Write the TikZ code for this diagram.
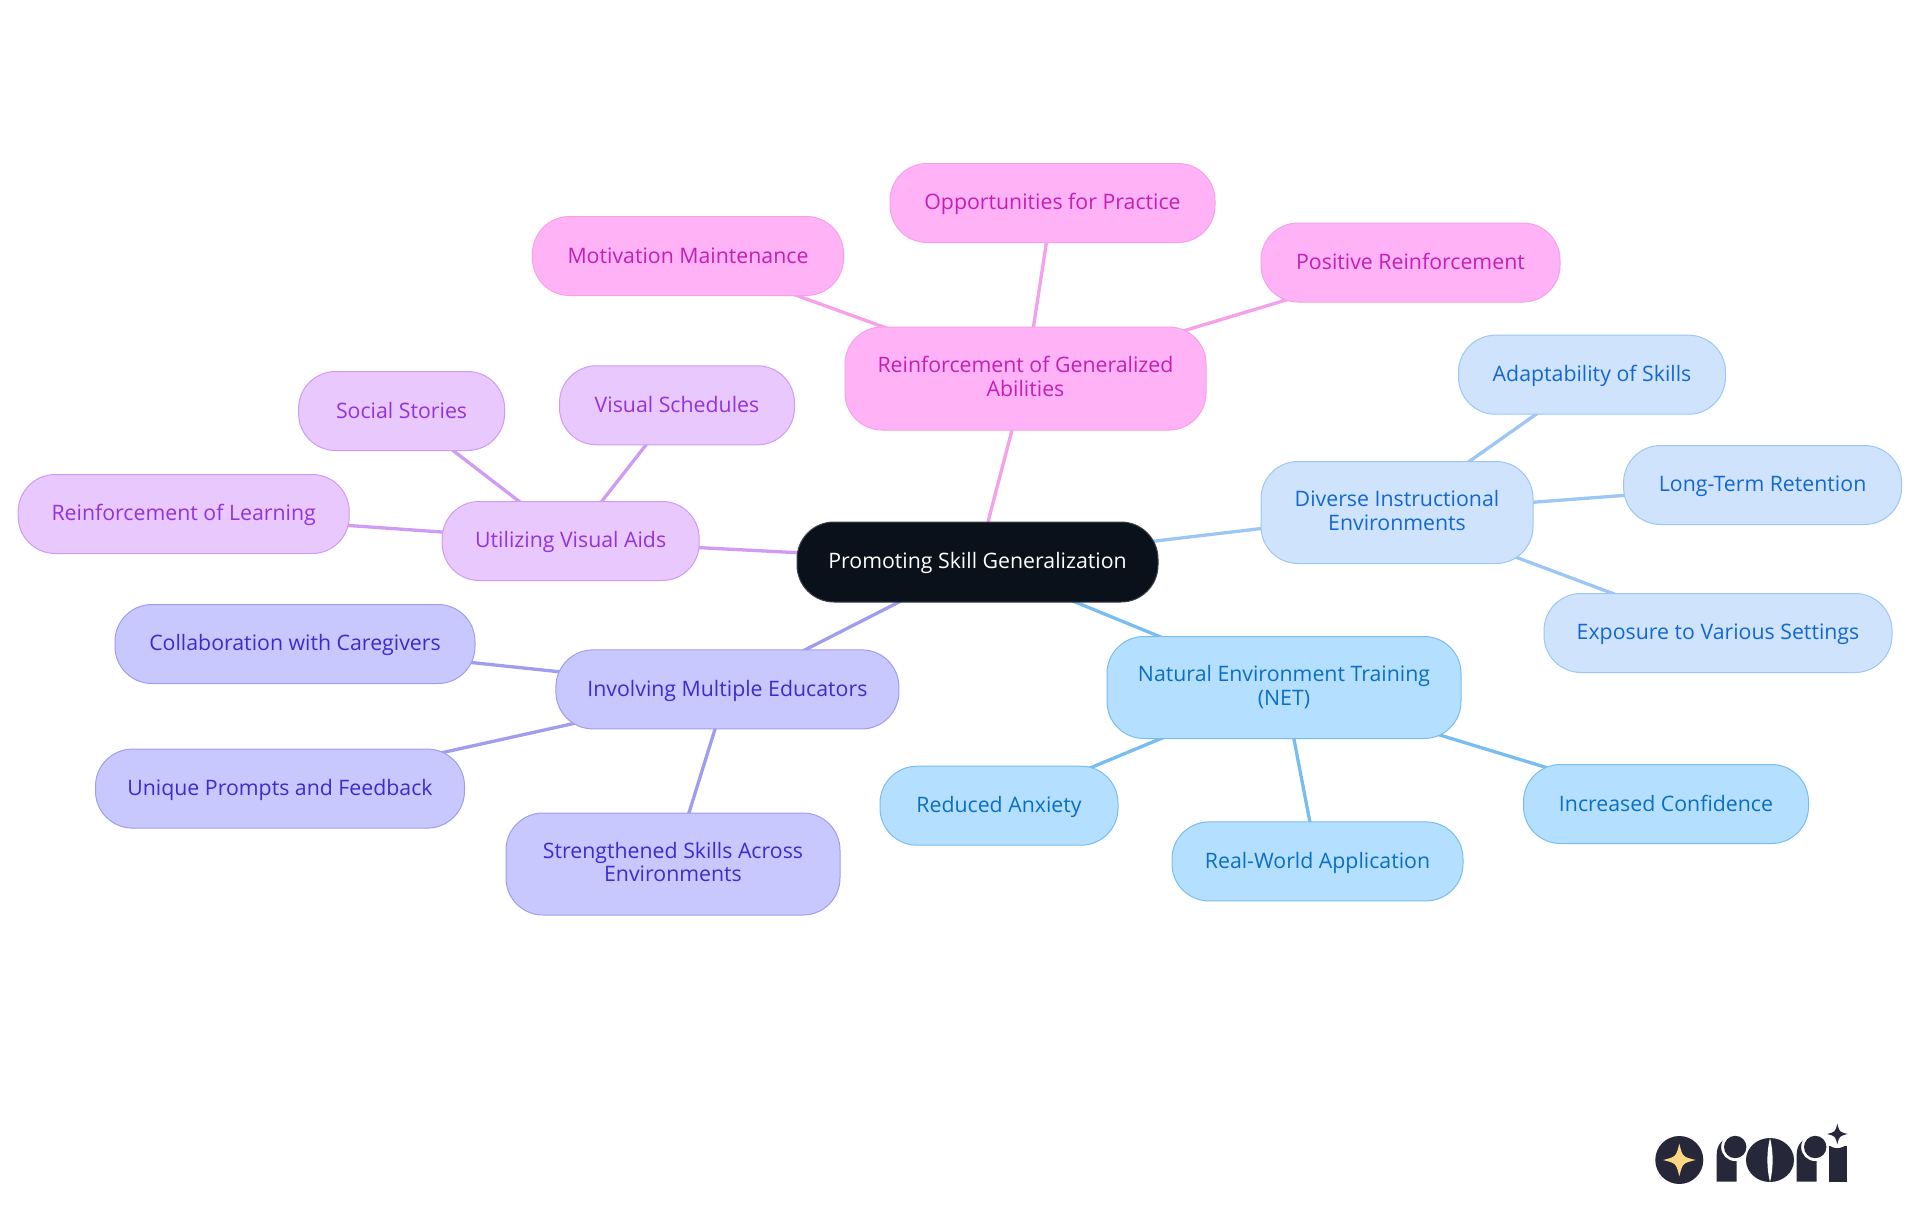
\documentclass[tikz,border=0pt]{standalone}
\usepackage{fontspec}
\setmainfont{Open Sans}
\usetikzlibrary{backgrounds}

\definecolor{rootfill}{HTML}{0B111A}
\definecolor{pinkfill}{HTML}{FFB3F6}
\definecolor{pinkline}{HTML}{F5A0EA}
\definecolor{pinktext}{HTML}{C41FB4}
\definecolor{violetfill}{HTML}{E8C8FD}
\definecolor{violetline}{HTML}{CF9BF5}
\definecolor{violettext}{HTML}{9333DD}
\definecolor{indigofill}{HTML}{C8C8FF}
\definecolor{indigoline}{HTML}{A09CF0}
\definecolor{indigotext}{HTML}{3B2CCC}
\definecolor{bluefill}{HTML}{CFE3FD}
\definecolor{blueline}{HTML}{9CC7F4}
\definecolor{bluetext}{HTML}{1268D0}
\definecolor{skyfill}{HTML}{B5DFFF}
\definecolor{skyline}{HTML}{78BDF2}
\definecolor{skytext}{HTML}{0A6FC4}
\definecolor{logodark}{HTML}{27273A}
\definecolor{logostar}{HTML}{FDD882}

\newcommand{\mapstrut}{\rule[-4.6pt]{0pt}{23.6pt}}

\tikzset{
  mapnode/.style={rectangle, rounded corners=37pt, align=center, inner sep=0pt,
                  line width=1pt, font=\fontsize{21.3}{23.5}\selectfont,
                  execute at begin node=\mapstrut, execute at end node=\mapstrut},
  rootnode/.style={mapnode, fill=rootfill, draw=rootfill!80!white, text=white},
  pinknode/.style={mapnode, fill=pinkfill, draw=pinkline, text=pinktext},
  violetnode/.style={mapnode, fill=violetfill, draw=violetline, text=violettext},
  indigonode/.style={mapnode, fill=indigofill, draw=indigoline, text=indigotext},
  bluenode/.style={mapnode, fill=bluefill, draw=blueline, text=bluetext},
  skynode/.style={mapnode, fill=skyfill, draw=skyline, text=skytext},
  link/.style={line width=3.3pt}
}

% four pointed star of the logo
\newcommand{\logostar}[4]{%
  \fill[#4] (#1+#3,#2) .. controls (#1+0.2*#3,#2+0.2*#3) .. (#1,#2+#3)
    .. controls (#1-0.2*#3,#2+0.2*#3) .. (#1-#3,#2)
    .. controls (#1-0.2*#3,#2-0.2*#3) .. (#1,#2-#3)
    .. controls (#1+0.2*#3,#2-0.2*#3) .. cycle;}
% letter r of the logo
\newcommand{\logor}[1]{%
  \fill[logodark] (#1,1181.7) -- (#1,1154) .. controls (#1,1145) and (#1+6,1138) .. (#1+14,1138)
    -- (#1+20,1138) -- (#1+20,1181.7) -- cycle;
  \fill[white] (#1+18.5,1147) circle (14);
  \fill[white] (#1+20,1140) rectangle (#1+36,1182);
  \fill[logodark] (#1+18.5,1147) circle (11.2);}

\begin{document}
\begin{tikzpicture}[x=1pt, y=-1pt]
\useasboundingbox (0,0) rectangle (1920,1215);

% Nodes
\node[rootnode, minimum width=361pt, minimum height=80pt] (root) at (977.5,562) {Promoting Skill Generalization};

\node[pinknode, minimum width=361pt, minimum height=103pt] (reinforce) at (1025.5,378.5) {Reinforcement of Generalized\\Abilities};
\node[pinknode, minimum width=311pt, minimum height=79pt] (motivation) at (688,256) {Motivation Maintenance};
\node[pinknode, minimum width=325pt, minimum height=79pt] (practice) at (1052.5,203) {Opportunities for Practice};
\node[pinknode, minimum width=299pt, minimum height=79pt] (positive) at (1410.5,262.5) {Positive Reinforcement};

\node[bluenode, minimum width=272pt, minimum height=102pt] (diverse) at (1397,512.5) {Diverse Instructional\\Environments};
\node[bluenode, minimum width=267pt, minimum height=79pt] (adapt) at (1592,374.7) {Adaptability of Skills};
\node[bluenode, minimum width=278pt, minimum height=79pt] (retention) at (1762.6,485) {Long-Term Retention};
\node[bluenode, minimum width=348pt, minimum height=79pt] (exposure) at (1718,633) {Exposure to Various Settings};

\node[skynode, minimum width=354pt, minimum height=102pt] (net) at (1284,687.5) {Natural Environment Training\\(NET)};
\node[skynode, minimum width=238pt, minimum height=79pt] (anxiety) at (999,805.7) {Reduced Anxiety};
\node[skynode, minimum width=291pt, minimum height=79pt] (realworld) at (1317.5,861.4) {Real-World Application};
\node[skynode, minimum width=285pt, minimum height=79pt] (confidence) at (1666,804) {Increased Confidence};

\node[indigonode, minimum width=343pt, minimum height=79pt] (educators) at (727.4,689.4) {Involving Multiple Educators};
\node[indigonode, minimum width=360pt, minimum height=79pt] (caregivers) at (295,644) {Collaboration with Caregivers};
\node[indigonode, minimum width=369pt, minimum height=79pt] (prompts) at (280,788.6) {Unique Prompts and Feedback};
\node[indigonode, minimum width=334pt, minimum height=102pt] (across) at (673,864) {Strengthened Skills Across\\Environments};

\node[violetnode, minimum width=257pt, minimum height=79pt] (visual) at (570.7,541) {Utilizing Visual Aids};
\node[violetnode, minimum width=206pt, minimum height=79pt] (stories) at (401.6,411) {Social Stories};
\node[violetnode, minimum width=235pt, minimum height=79pt] (schedules) at (677,405.3) {Visual Schedules};
\node[violetnode, minimum width=331pt, minimum height=79pt] (learning) at (183.7,514) {Reinforcement of Learning};

% Connections
\begin{scope}[on background layer]
\draw[link, pinkline] (root.center) -- (reinforce.center);
\draw[link, pinkline] (reinforce.center) -- (motivation.center);
\draw[link, pinkline] (reinforce.center) -- (practice.center);
\draw[link, pinkline] (reinforce.center) -- (positive.center);

\draw[link, blueline] (root.center) -- (diverse.center);
\draw[link, blueline] (diverse.center) -- (adapt.center);
\draw[link, blueline] (diverse.center) -- (retention.center);
\draw[link, blueline] (diverse.center) -- (exposure.center);

\draw[link, skyline] (root.center) -- (net.center);
\draw[link, skyline] (net.center) -- (anxiety.center);
\draw[link, skyline] (net.center) -- (realworld.center);
\draw[link, skyline] (net.center) -- (confidence.center);

\draw[link, indigoline] (root.center) -- (educators.center);
\draw[link, indigoline] (educators.center) -- (caregivers.center);
\draw[link, indigoline] (educators.center) -- (prompts.center);
\draw[link, indigoline] (educators.center) -- (across.center);

\draw[link, violetline] (root.center) -- (visual.center);
\draw[link, violetline] (visual.center) -- (stories.center);
\draw[link, violetline] (visual.center) -- (schedules.center);
\draw[link, violetline] (visual.center) -- (learning.center);
\end{scope}

% Logo
\fill[logodark] (1679.3,1160) circle (24);
\logostar{1679.3}{1160}{16.3}{logostar}
\logor{1716.7}
\fill[logodark] (1770,1160) ellipse (24 and 22);
\fill[white] (1770,1138) .. controls (1766.5,1152) and (1766.5,1168) .. (1770,1182)
  .. controls (1773.5,1168) and (1773.5,1152) .. cycle;
\logor{1796.7}
\fill[logodark] (1829.3,1146) rectangle (1846.7,1181.7);
\fill[white] (1837.3,1134) circle (14);
\logostar{1837.3}{1134}{10.3}{logodark}

\end{tikzpicture}
\end{document}
